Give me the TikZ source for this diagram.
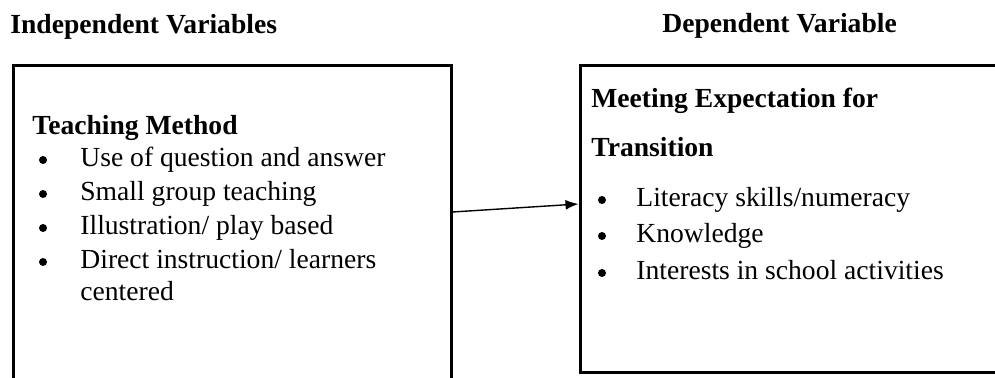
\documentclass[tikz,border=0pt]{standalone}
\usepackage{fontspec}
\setmainfont{Liberation Serif}
\usetikzlibrary{arrows.meta, positioning}

\begin{document}
\begin{tikzpicture}[x=0.5pt, y=-0.5pt]
\tikzstyle{varbox} = [rectangle, draw=black, line width=1.5pt, inner sep=0pt]
\tikzstyle{heading} = [font=\fontsize{13.8}{16}\selectfont\bfseries, anchor=base west, inner sep=0pt]
\tikzstyle{item} = [font=\fontsize{13.8}{16}\selectfont, anchor=base west, inner sep=0pt]
\tikzstyle{dot} = [circle, fill=black, inner sep=0pt, minimum size=4pt]

\useasboundingbox (0,0) rectangle (995,378);
\clip (0,0) rectangle (995,378);

% titles
\node (indep) [heading] at (10,34) {Independent Variables};
\node (dep) [heading] at (662,33) {Dependent Variable};

% boxes (cut by the page edge)
\node (method) [varbox, minimum width=219pt, minimum height=182pt] at (232,248) {};
\node (expect) [varbox, minimum width=230pt, minimum height=153.5pt] at (810,219.5) {};

% teaching method
\node (tm) [heading] at (32,135) {Teaching Method};
\node (b1) [dot] at (43,160) {};
\node (m1) [item] at (80,167) {Use of question and answer};
\node (b2) [dot] at (43,194) {};
\node (m2) [item] at (80,201) {Small group teaching};
\node (b3) [dot] at (43,228) {};
\node (m3) [item] at (80,235) {Illustration/ play based};
\node (b4) [dot] at (43,262) {};
\node (m4) [item] at (80,269) {Direct instruction/ learners};
\node (m5) [item] at (80,301) {centered};

% meeting expectation
\node (me) [heading] at (591,108) {Meeting Expectation for};
\node (tr) [heading] at (591,157) {Transition};
\node (c1) [dot] at (602,200) {};
\node (e1) [item] at (636,207) {Literacy skills/numeracy};
\node (c2) [dot] at (602,236) {};
\node (e2) [item] at (636,243) {Knowledge};
\node (c3) [dot] at (602,273) {};
\node (e3) [item] at (636,280) {Interests in school activities};

\draw[-{Latex[length=6.5pt,width=5pt]}, line width=0.7pt] ([yshift=18pt]method.east) -- ([yshift=7.75pt]expect.west);

\end{tikzpicture}
\end{document}
